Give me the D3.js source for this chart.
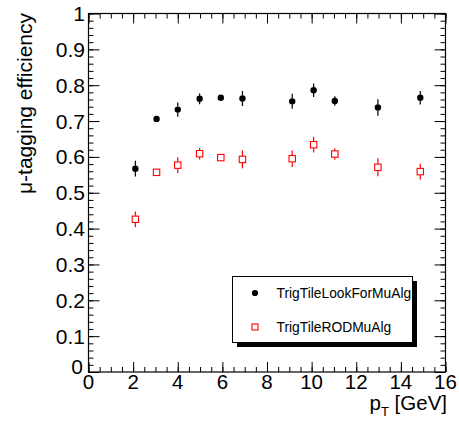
<!DOCTYPE html>
<html>
<head>
<meta charset="utf-8">
<script src="https://cdn.jsdelivr.net/npm/d3@7"></script>
<style>
  body { margin: 0; background: #fff; }
  svg { display: block; }
  text { font-family: "Liberation Sans", Arial, Helvetica, sans-serif; fill: #000; }
  .axis .domain { display: none; }
  .axis line { stroke: #000; stroke-width: 1; }
</style>
</head>
<body>
<script>
// points
const pt      = [2.1, 3.05, 4.0, 4.98, 5.93, 6.9, 9.13, 10.09, 11.04, 12.97, 14.87];
const effLook = [0.567, 0.706, 0.732, 0.762, 0.765, 0.763, 0.755, 0.786, 0.756, 0.738, 0.765];
const errLook = [0.022, 0.008, 0.020, 0.015, 0.008, 0.021, 0.021, 0.019, 0.013, 0.023, 0.019];
const effRod  = [0.426, 0.557, 0.577, 0.609, 0.598, 0.593, 0.595, 0.634, 0.608, 0.571, 0.559];
const errRod  = [0.022, 0.008, 0.022, 0.016, 0.008, 0.025, 0.023, 0.022, 0.016, 0.025, 0.022];
const xTicks  = [0, 2, 4, 6, 8, 10, 12, 14, 16];
const yTicks  = [0, 0.1, 0.2, 0.3, 0.4, 0.5, 0.6, 0.7, 0.8, 0.9, 1];
const legendNames = ["TrigTileLookForMuAlg", "TrigTileRODMuAlg"];

const W = 459, H = 423;
const x0 = 88.5, x1 = 445.5, y0 = 13.5, y1 = 372;

const x = d3.scaleLinear().domain([0, 16]).range([x0, x1]);
const y = d3.scaleLinear().domain([0, 1]).range([y1, y0]);

const svg = d3.select("body").append("svg")
    .attr("width", W).attr("height", H);

// ticks on all four sides, pointing inward
function ticks(axisFn, scale, values, size, tr) {
    svg.append("g").attr("class", "axis")
        .attr("transform", tr)
        .call(axisFn(scale).tickValues(values).tickSize(size).tickFormat(""));
}
const xMinor = d3.range(0, 16.001, 0.5);
const yMinor = d3.range(0, 1.0001, 0.02);

ticks(d3.axisBottom, x, xMinor, -5, `translate(0,${y1})`);
ticks(d3.axisBottom, x, xTicks, -10, `translate(0,${y1})`);
ticks(d3.axisTop, x, xMinor, -5, `translate(0,${y0})`);
ticks(d3.axisTop, x, xTicks, -10, `translate(0,${y0})`);
ticks(d3.axisLeft, y, yMinor, -5, `translate(${x0},0)`);
ticks(d3.axisLeft, y, yTicks, -11, `translate(${x0},0)`);
ticks(d3.axisRight, y, yMinor, -5, `translate(${x1},0)`);
ticks(d3.axisRight, y, yTicks, -11, `translate(${x1},0)`);

svg.append("rect")
    .attr("x", x0).attr("y", y0)
    .attr("width", x1 - x0).attr("height", y1 - y0)
    .attr("fill", "none").attr("stroke", "#000").attr("stroke-width", 1.2);

// tick labels
svg.append("g").selectAll("text").data(xTicks).join("text")
    .attr("x", d => x(d))
    .attr("y", 389)
    .attr("text-anchor", "middle")
    .style("font-size", "20.5px")
    .text(d => d);

svg.append("g").selectAll("text").data(yTicks).join("text")
    .attr("x", d => d === 0 ? 83 : 85)
    .attr("y", y)
    .attr("dy", d => d === 0 ? "0.1em" : "0.36em")
    .attr("text-anchor", "end")
    .style("font-size", "21px")
    .text(d => d);

// axis titles
const xt = svg.append("text")
    .attr("x", 447).attr("y", 410)
    .attr("text-anchor", "end")
    .style("font-size", "20.5px");
xt.append("tspan").text("p");
xt.append("tspan").attr("dy", 6).style("font-size", "13px").text("T");
xt.append("tspan").attr("dy", -6).text(" [GeV]");

svg.append("text")
    .attr("transform", "translate(32,13) rotate(-90)")
    .attr("text-anchor", "end")
    .style("font-size", "21px")
    .text("\u03bc-tagging efficiency");

// error bars with a gap round the marker, like ROOT does
function errBars(vals, errs, color, gap) {
    const g = svg.append("g").attr("stroke", color).attr("stroke-width", 1.2);
    pt.forEach((p, i) => {
        const cx = x(p), lo = y(vals[i] - errs[i]), hi = y(vals[i] + errs[i]), c = y(vals[i]);
        if (c - hi > gap) g.append("line").attr("x1", cx).attr("x2", cx).attr("y1", hi).attr("y2", c - gap);
        if (lo - c > gap) g.append("line").attr("x1", cx).attr("x2", cx).attr("y1", c + gap).attr("y2", lo);
    });
}

errBars(effLook, errLook, "#000", 3);
errBars(effRod, errRod, "#f00", 3.5);

svg.append("g").selectAll("circle").data(pt).join("circle")
    .attr("cx", d => x(d))
    .attr("cy", (d, i) => y(effLook[i]))
    .attr("r", 3.2)
    .attr("fill", "#000");

svg.append("g").selectAll("rect").data(pt).join("rect")
    .attr("x", d => x(d) - 3.2)
    .attr("y", (d, i) => y(effRod[i]) - 3.2)
    .attr("width", 6.4).attr("height", 6.4)
    .attr("fill", "none").attr("stroke", "#f00").attr("stroke-width", 1.1);

// legend
const lx = 232.5, ly = 276.5, lw = 180, lh = 66;
svg.append("rect")
    .attr("x", lx + 4.5).attr("y", ly + 4.5).attr("width", lw).attr("height", lh)
    .attr("fill", "#000");
svg.append("rect")
    .attr("x", lx).attr("y", ly).attr("width", lw).attr("height", lh)
    .attr("fill", "#fff").attr("stroke", "#000").attr("stroke-width", 1);

svg.append("circle").attr("cx", 255).attr("cy", 293).attr("r", 3.1).attr("fill", "#000");
svg.append("rect").attr("x", 252).attr("y", 324).attr("width", 6).attr("height", 6)
    .attr("fill", "none").attr("stroke", "#f00").attr("stroke-width", 1.1);

svg.append("g").selectAll("text").data(legendNames).join("text")
    .attr("x", 276.5)
    .attr("y", (d, i) => 298 + i * 33.5)
    .style("font-size", "13.8px")
    .text(d => d);
</script>
</body>
</html>
